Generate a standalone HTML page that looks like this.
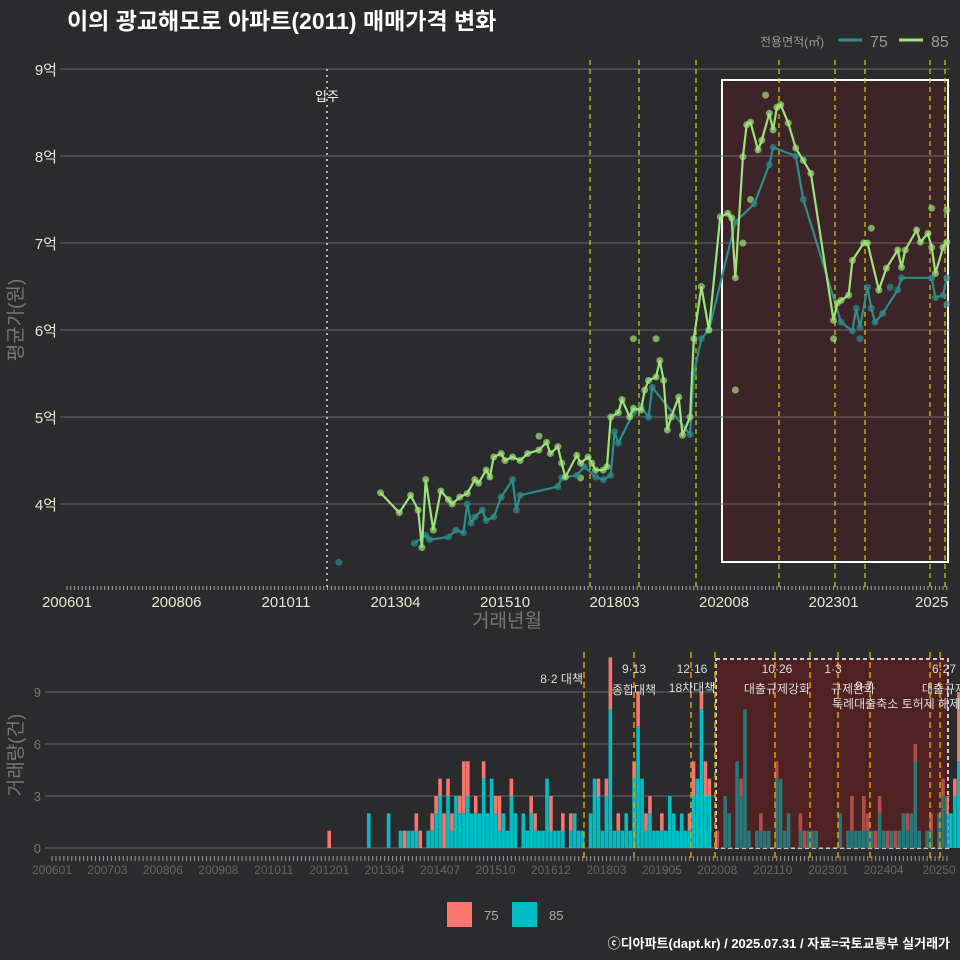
<!DOCTYPE html>
<html><head><meta charset="utf-8">
<style>
html,body{margin:0;padding:0;background:#2b2b2d;}
svg{display:block;font-family:"Liberation Sans","Noto Sans CJK KR",sans-serif;}
</style></head>
<body>
<svg id="chart" width="960" height="960" viewBox="0 0 960 960">
<rect x="0" y="0" width="960" height="960" fill="#2b2b2d"/>
<text x="67" y="29" font-size="23" font-weight="bold" fill="#ffffff">이의 광교해모로 아파트(2011) 매매가격 변화</text>
<g>
<text x="760" y="46" font-size="12" fill="#999">전용면적(㎡)</text>
<line x1="838" y1="40" x2="862" y2="40" stroke="#2e8c8c" stroke-width="3"/>
<text x="870" y="47" font-size="16" fill="#999">75</text>
<line x1="899" y1="40" x2="923" y2="40" stroke="#9ee37a" stroke-width="3"/>
<text x="931" y="47" font-size="16" fill="#999">85</text>
</g>
<g id="topPanel"></g>
<g id="botPanel"></g>
<text x="22" y="320" font-size="19" fill="#777" transform="rotate(-90 22 320)" text-anchor="middle">평균가(원)</text>
<text x="507" y="627" font-size="19" fill="#777" text-anchor="middle">거래년월</text>
<text x="22" y="755" font-size="19" fill="#777" transform="rotate(-90 22 755)" text-anchor="middle">거래량(건)</text>
<g>
<rect x="447" y="902" width="25" height="25" fill="#F8766D"/>
<text x="484" y="920" font-size="13" fill="#aaa">75</text>
<rect x="512" y="902" width="25" height="25" fill="#00BFC4"/>
<text x="549" y="920" font-size="13" fill="#aaa">85</text>
</g>
<text x="950" y="948" font-size="13" font-weight="bold" fill="#fff" text-anchor="end">ⓒ디아파트(dapt.kr) / 2025.07.31 / 자료=국토교통부 실거래가</text>
</svg>
<script>
// ---- data (month index: 0 = 2006-01) ----
const tickLabelsTop = ["200601","200806","201011","201304","201510","201803","202008","202301","2025"];
const tickMonthsTop = [0,29,58,87,116,145,174,203,229];
const yTicks = [4,5,6,7,8,9];
const m85 = [83,88,91,93,94,95,97,99,101,102,104,106,108,109,111,112,113,115,116,118,120,122,125,127,128,130,131,132,135,136,138,139,140,142,143,144,146,147,149,150,152,153,154,156,157,158,159,160,162,163,165,166,168,170,173,175,176,177,179,180,181,183,184,186,187,188,189,191,193,195,197,203,204,205,207,208,211,212,215,217,220,221,222,225,226,228,229,230,232,233];
const v85 = [4.13,3.9,4.1,3.93,3.5,4.28,3.7,4.15,4.05,4.0,4.08,4.12,4.28,4.24,4.39,4.31,4.54,4.58,4.5,4.54,4.5,4.58,4.62,4.71,4.58,4.66,4.47,4.31,4.56,4.47,4.54,4.47,4.39,4.39,4.43,5.0,5.05,5.2,5.0,5.1,5.08,5.31,5.42,5.46,5.65,5.42,4.85,5.0,5.23,4.79,5.0,5.9,6.5,6.0,7.3,7.34,7.29,6.6,7.99,8.36,8.39,8.07,8.18,8.49,8.3,8.56,8.59,8.38,8.09,7.95,7.8,6.11,6.31,6.34,6.4,6.8,7.0,7.0,6.46,6.71,6.92,6.72,6.92,7.15,7.01,7.11,6.95,6.65,6.95,7.01];
const m75 = [92,95,96,101,103,105,106,107,108,110,111,113,115,118,119,120,130,131,135,137,140,142,144,145,146,150,152,154,155,165,166,168,170,177,182,186,187,193,195,205,208,209,210,212,213,214,216,220,221,229,230,232,233];
const v75 = [3.55,3.64,3.59,3.62,3.7,3.67,4.0,3.78,3.85,3.93,3.81,3.85,4.08,4.28,3.93,4.1,4.2,4.3,4.33,4.43,4.31,4.28,4.33,4.83,4.7,5.05,5.12,5.0,5.34,4.8,5.5,5.9,6.0,7.24,7.45,7.9,8.1,8.0,7.5,6.09,5.99,6.25,6.03,6.49,6.25,6.09,6.19,6.46,6.6,6.6,6.37,6.4,6.6];
const lone75Month = [72,218,210,233];
const lone75Value = [3.33,6.49,5.9,6.3];
const extra85Month = [177,203,213,229,233,125,136,150,156,179,181,185];
const extra85Value = [5.31,5.9,7.17,7.4,7.38,4.78,4.3,5.9,5.9,7.0,7.5,8.7];
const volMonths = [70,80,85,88,89,90,91,92,93,95,96,97,98,99,100,101,102,103,104,105,106,107,108,109,110,111,112,113,114,115,116,117,119,120,121,122,123,124,125,126,127,128,129,131,132,133,134,136,137,138,139,140,141,142,143,144,145,146,147,148,149,150,151,152,153,154,155,156,157,158,159,160,161,162,163,164,165,166,168,170,171,173,174,175,176,178,179,180,181,183,184,185,186,189,190,191,192,193,199,201,202,203,204,205,206,207,208,209,210,211,212,213,214,215,216,217,218,219,221,222,224,225,226,227,228,229,230];
const vol85 = [0,2,2,1,0,1,1,1,0,1,1,2,3,0,3,1,3,2,2,3,2,2,2,4,2,4,2,1,2,1,3,2,2,1,2,1,1,1,4,1,1,1,1,1,2,1,1,2,4,3,1,3,8,1,1,1,2,1,4,7,4,1,2,1,1,1,1,3,2,1,2,1,1,3,4,8,3,3,0,3,2,5,3,8,1,1,1,1,1,4,4,1,2,1,0,1,1,1,2,1,1,1,1,1,1,1,0,2,1,0,1,0,1,2,1,2,5,1,1,1,2,3,2,2,3,5,2];
const vol75 = [1,0,0,0,1,0,0,1,1,0,1,1,1,2,1,1,0,1,3,2,0,1,0,1,0,0,1,2,0,0,1,0,0,0,1,1,0,0,0,2,0,0,1,1,0,0,0,0,0,1,0,1,3,0,1,0,0,0,1,2,0,1,1,0,0,1,0,0,0,0,0,0,1,2,0,1,2,1,1,0,0,0,1,0,0,0,1,0,0,1,0,0,0,1,1,0,0,0,0,0,2,0,0,2,1,0,1,1,0,1,0,1,0,0,1,0,1,0,0,1,0,1,1,0,1,4,0];
const tickLabelsBot = ["200601","200703","200806","200908","201011","201201","201304","201407","201510","201612","201803","201905","202008","202110","202301","202404","20250"];
const volTicks = [0,3,6,9];
// ---- scales ----
const NS="http://www.w3.org/2000/svg";
const xT = m => 67 + m*3.776;
const yT = v => 504 - (v-4)*87;
const xB = m => 52 + m*3.96;
const yB = v => 848 - v*17.33;
function el(p,tag,a){const e=document.createElementNS(NS,tag);for(const k in a)e.setAttribute(k,a[k]);p.appendChild(e);return e;}
const topG=document.getElementById('topPanel'), botG=document.getElementById('botPanel');
const sb=el(topG,'rect',{x:722,y:80,width:226,height:482,fill:'#3d2428',stroke:'#fff','stroke-width':2});


yTicks.forEach(v=>{
 const l=el(topG,'line',{x1:60,x2:950,y1:yT(v),y2:yT(v),stroke:'#6a6a6a','stroke-width':1});
 
 
 const t=el(topG,'text',{x:57,y:yT(v)+6,'font-size':15,fill:'#e6e6d0','text-anchor':'end'});t.textContent=v+'억';
 
 
});
for(let m=0;m<=233;m++){const k=el(topG,'line',{x1:xT(m),x2:xT(m),y1:586,y2:590,stroke:'#aaa','stroke-width':1});
 
 }
tickLabelsTop.forEach((s,i)=>{const t=el(topG,'text',{x:xT(tickMonthsTop[i]),y:607,'font-size':15,fill:'#e6e6d0','text-anchor':'middle'});t.textContent=s;
 
 });
[590,639,696,779,835,865,930,945].forEach(x=>{const l=el(topG,'line',{x1:x,x2:x,y1:60,y2:588,stroke:'#d4d400','stroke-width':1.2,'stroke-dasharray':'5,4'});
 
 });
const mv=el(topG,'line',{x1:327,x2:327,y1:69,y2:588,stroke:'#ddd','stroke-width':1.5,'stroke-dasharray':'2,4'});


const mt=el(topG,'text',{x:327,y:101,'font-size':13,fill:'#fff','text-anchor':'middle'});mt.textContent='입주';


function pts(ms,vs,col,name){
 vs.forEach((v,i)=>{const c=el(topG,'circle',{cx:xT(ms[i]),cy:yT(v),r:3.5,fill:col,'fill-opacity':0.7});
  
  });
}
function series(ms,vs,col,name){
 pts(ms,vs,col,name);
 const p=el(topG,'polyline',{points:vs.map((v,i)=>xT(ms[i])+','+yT(v)).join(' '),fill:'none',stroke:col,'stroke-width':2.2});
 
 
}
pts(lone75Month,lone75Value,'#2e8c8c','series-75');
pts(extra85Month,extra85Value,'#9ee37a','series-85');
series(m75,v75,'#2e8c8c','series-75');
series(m85,v85,'#9ee37a','series-85');
volTicks.forEach(v=>{const l=el(botG,'line',{x1:45,x2:950,y1:yB(v),y2:yB(v),stroke:'#6a6a6a','stroke-width':1});
 
 
 const t=el(botG,'text',{x:41,y:yB(v)+5,'font-size':13,fill:'#777','text-anchor':'end'});t.textContent=v;
 
 });
const bb=el(botG,'rect',{x:716,y:659,width:232,height:189,fill:'#4a2222','fill-opacity':0.9,stroke:'#ccc','stroke-width':2,'stroke-dasharray':'4,3'});


volMonths.forEach((m,i)=>{
 const c=vol85[i], s=vol75[i], w=3.6, x=xB(m)-w/2;
 if(c>0){const r=el(botG,'rect',{x:x,y:yB(c),width:w,height:yB(0)-yB(c),fill:'#00BFC4'});
  
  }
 if(s>0){const r=el(botG,'rect',{x:x,y:yB(c+s),width:w,height:yB(c)-yB(c+s),fill:'#F8766D'});
  
  }
});
const ov=el(botG,'rect',{x:717,y:660,width:230,height:188,fill:'#5a2020','fill-opacity':0.45});


[584,634,691,715,775,810,838,870,930,940].forEach(x=>{const l=el(botG,'line',{x1:x,x2:x,y1:652,y2:858,stroke:'#e0a000','stroke-width':1.5,'stroke-dasharray':'6,4'});
 
 });
for(let m=0;m<=226;m++){const k=el(botG,'line',{x1:xB(m),x2:xB(m),y1:856,y2:861,stroke:'#999','stroke-width':1});
 
 }
tickLabelsBot.forEach((s,i)=>{const t=el(botG,'text',{x:xB(i*14),y:874,'font-size':12,fill:'#666','text-anchor':'middle'});t.textContent=s;
 
 });
[["8·2 대책",583,683,"end"],["9·13",634,673,"middle"],["종합대책",634,694,"middle"],["12·16",692,673,"middle"],["18차대책",692,692,"middle"],["10·26",777,673,"middle"],["대출규제강화",777,693,"middle"],["1·3",833,673,"middle"],["규제완화",853,693,"middle"],["9·7",864,690,"middle"],["특례대출축소 토허제 해제",832,708,"start"],["6·27",944,673,"middle"],["대출규제",944,693,"middle"]].forEach(a=>{
 const t=el(botG,'text',{x:a[1],y:a[2],'font-size':12,fill:'#ddd','text-anchor':a[3]});t.textContent=a[0];
 
 });
</script>
</body></html>
